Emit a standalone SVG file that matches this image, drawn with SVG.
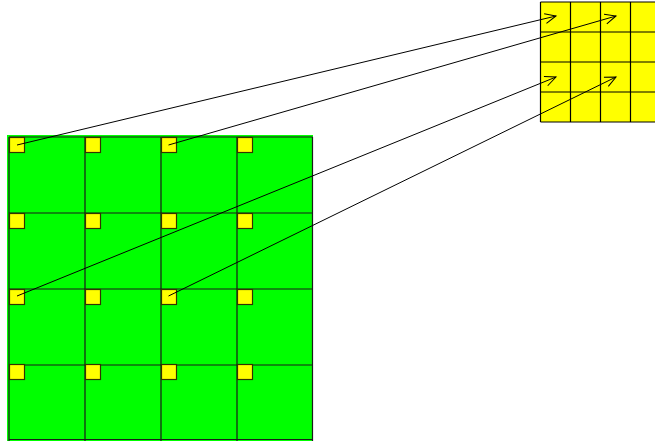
<svg xmlns="http://www.w3.org/2000/svg" width="655" height="441" viewBox="0 0 655 441">
<style>
.grid{stroke:#1a1a1a;stroke-width:1.2;fill:none}
.ygrid{stroke:#000;stroke-width:1.2;fill:none}
.sq{fill:#ffff00;stroke:#333300;stroke-width:1.2}
.conn{stroke:#000;stroke-width:1;fill:none;marker-end:url(#arr)}
</style>
<defs>
<marker id="arr" markerWidth="14" markerHeight="12" refX="12" refY="6" orient="auto" markerUnits="userSpaceOnUse">
<path d="M1,1 L12,6 L1,11" fill="none" stroke="#000" stroke-width="1"/>
</marker>
</defs>
<g id="input-grid">
<rect x="7" y="135" width="306" height="306" fill="#00ff00"/>
<path class="grid" d="M9,137V441M85,137V441M161,137V441M237,137V441M312.5,137V441M9,137H312.5M9,213H312.5M9,289H312.5M9,365H312.5M9,439.5H312.5"/>
</g>
<g id="patches">
<rect class="sq" x="9.5" y="137.5" width="15" height="15"/>
<rect class="sq" x="85.5" y="137.5" width="15" height="15"/>
<rect class="sq" x="161.5" y="137.5" width="15" height="15"/>
<rect class="sq" x="237.5" y="137.5" width="15" height="15"/>
<rect class="sq" x="9.5" y="213.5" width="15" height="15"/>
<rect class="sq" x="85.5" y="213.5" width="15" height="15"/>
<rect class="sq" x="161.5" y="213.5" width="15" height="15"/>
<rect class="sq" x="237.5" y="213.5" width="15" height="15"/>
<rect class="sq" x="9.5" y="289.5" width="15" height="15"/>
<rect class="sq" x="85.5" y="289.5" width="15" height="15"/>
<rect class="sq" x="161.5" y="289.5" width="15" height="15"/>
<rect class="sq" x="237.5" y="289.5" width="15" height="15"/>
<rect class="sq" x="9.5" y="364.5" width="15" height="15"/>
<rect class="sq" x="85.5" y="364.5" width="15" height="15"/>
<rect class="sq" x="161.5" y="364.5" width="15" height="15"/>
<rect class="sq" x="237.5" y="364.5" width="15" height="15"/>
</g>
<g id="output-grid">
<rect x="540.5" y="2" width="130" height="120" fill="#ffff00"/>
<path class="ygrid" d="M540.5,2V122M570.5,2V122M600.5,2V122M630.5,2V122M540.5,2H655M540.5,32H655M540.5,62H655M540.5,92H655M540.5,122H655"/>
</g>
<g id="connectors">
<line class="conn" x1="17" y1="145" x2="556" y2="16"/>
<line class="conn" x1="168.5" y1="145" x2="616" y2="16"/>
<line class="conn" x1="17" y1="296" x2="556" y2="77"/>
<line class="conn" x1="168.5" y1="296" x2="616" y2="77"/>
</g>
</svg>
